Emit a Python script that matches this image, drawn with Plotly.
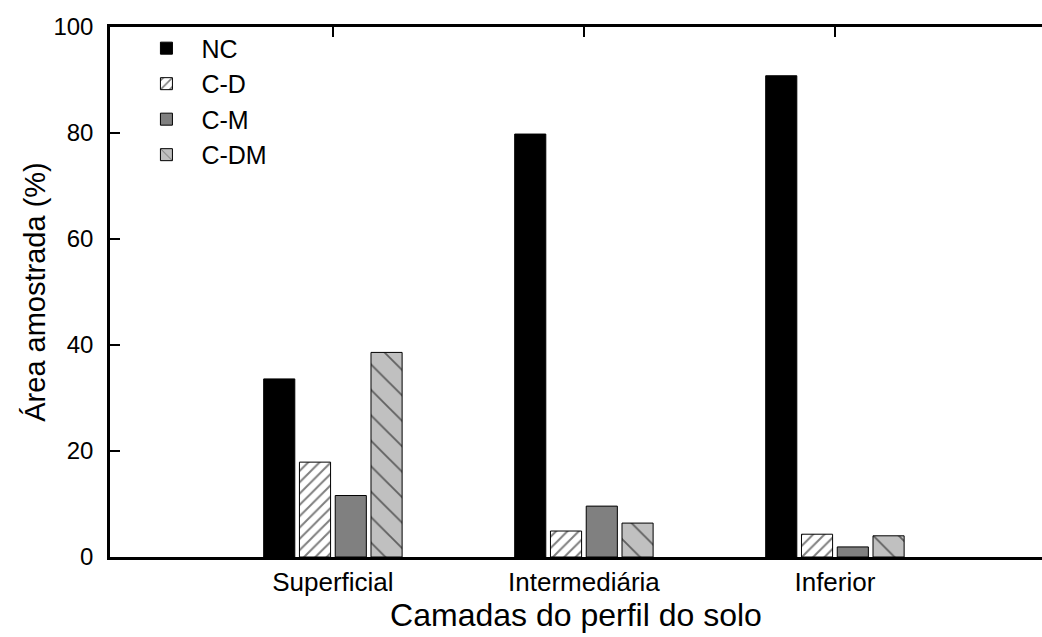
import plotly.graph_objects as go

categories = ["Superficial", "Intermediária", "Inferior"]
series_names = ["NC", "C-D", "C-M", "C-DM"]
nc = [33.6, 79.8, 90.8]
cd = [17.9, 4.9, 4.3]
cm = [11.6, 9.6, 1.9]
cdm = [38.6, 6.4, 4.0]
values = [nc, cd, cm, cdm]

styles = [
    dict(color="black", pattern=None),
    dict(color="white", pattern=dict(shape="/", fgcolor="black", bgcolor="white", size=8, solidity=0.25)),
    dict(color="#808080", pattern=None),
    dict(color="#c0c0c0", pattern=dict(shape="\\", fgcolor="black", bgcolor="#c0c0c0", size=18, solidity=0.1)),
]

FONT = "Liberation Sans, Arial, sans-serif"

fig = go.Figure()
for name, vals, st in zip(series_names, values, styles):
    marker = dict(color=st["color"], line=dict(color="black", width=1))
    if st["pattern"]:
        marker["pattern"] = st["pattern"]
    fig.add_trace(go.Bar(name=name, x=categories, y=vals, marker=marker))

# invisible helper trace so the top (mirror) axis is drawn with its ticks
fig.add_trace(go.Scatter(x=[0, 1, 2], y=[0, 0, 0], mode="none", xaxis="x2",
                         showlegend=False, hoverinfo="skip"))

fig.update_layout(
    width=1042, height=637,
    margin=dict(l=110, r=0, t=27, b=80, autoexpand=False),
    paper_bgcolor="white", plot_bgcolor="white",
    barmode="group", bargap=0.43, bargroupgap=0.13,
    font=dict(family=FONT, color="black", size=24),
    showlegend=True,
    legend=dict(x=0.023, y=1.003, xanchor="left", yanchor="top",
                font=dict(size=25, family=FONT), bgcolor="rgba(0,0,0,0)",
                tracegroupgap=0, itemwidth=60),
    xaxis=dict(
        type="category", range=[-0.888, 2.825], automargin=False,
        showline=True, linecolor="black", linewidth=3,
        ticks="", showgrid=False, zeroline=False,
        tickfont=dict(size=26), ticklabelstandoff=0,
        title=dict(text="Camadas do perfil do solo", font=dict(size=32), standoff=2),
    ),
    xaxis2=dict(
        overlaying="x", side="top", anchor="y", type="linear", automargin=False,
        range=[-0.888, 2.825], tickvals=[0, 1, 2], showticklabels=False,
        ticks="inside", ticklen=10, tickwidth=2, tickcolor="black",
        showline=True, linecolor="black", linewidth=2.5, showgrid=False, zeroline=False,
    ),
    yaxis=dict(
        range=[0, 100], tickvals=[0, 20, 40, 60, 80, 100], automargin=False,
        showline=True, linecolor="black", linewidth=2.5,
        ticks="inside", ticklen=10, tickwidth=2, tickcolor="black",
        showgrid=False, zeroline=False, tickfont=dict(size=24), ticklabelstandoff=9,
        title=dict(text="Área amostrada (%)", font=dict(size=29), standoff=0),
    ),
)

fig.write_html(
    "out.html",
    config={"displayModeBar": False},
    post_script="document.body.style.margin='0';document.documentElement.style.overflow='hidden';document.body.style.overflow='hidden';",
)
